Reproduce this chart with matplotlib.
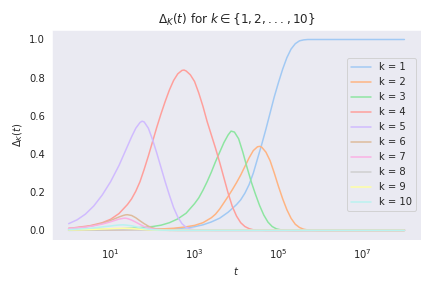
import numpy as np
import matplotlib
matplotlib.use("Agg")
import matplotlib.pyplot as plt
import seaborn as sns

# curves: log10(t) positions and Delta_k values
lt1 = [0, 1, 2, 2.5, 2.8, 3.0, 3.2, 3.4, 3.6, 3.8, 3.9, 4.0, 4.1, 4.2, 4.3, 4.4, 4.5,
       4.6, 4.7, 4.8, 4.9, 5.0, 5.1, 5.2, 5.3, 5.4, 5.5, 5.6, 5.7, 8]
d1 = [0.0, 0.002, 0.005, 0.008, 0.013, 0.019, 0.029, 0.044, 0.064, 0.095, 0.115, 0.135,
      0.16, 0.195, 0.24, 0.30, 0.375, 0.45, 0.53, 0.615, 0.70, 0.775, 0.845, 0.905, 0.95,
      0.978, 0.993, 0.998, 1.0, 1.0]

lt2 = [0, 1, 2, 2.5, 2.75, 3.0, 3.2, 3.4, 3.5, 3.6, 3.7, 3.8, 3.9, 4.0, 4.1, 4.2, 4.3,
       4.4, 4.5, 4.55, 4.6, 4.7, 4.8, 4.9, 5.0, 5.1, 5.2, 5.3, 5.4, 5.5, 5.6, 5.7, 5.8, 6.0, 8]
d2 = [0.002, 0.003, 0.005, 0.011, 0.017, 0.026, 0.04, 0.066, 0.085, 0.112, 0.145, 0.178,
      0.213, 0.25, 0.29, 0.335, 0.38, 0.418, 0.438, 0.44, 0.436, 0.41, 0.365, 0.30, 0.23,
      0.165, 0.108, 0.063, 0.032, 0.015, 0.006, 0.002, 0.0005, 0.0, 0.0]

lt3 = [0, 1, 1.5, 2.0, 2.2, 2.4, 2.6, 2.8, 3.0, 3.1, 3.2, 3.3, 3.4, 3.5, 3.6, 3.7, 3.8,
       3.87, 3.95, 4.05, 4.15, 4.25, 4.35, 4.45, 4.55, 4.65, 4.75, 4.85, 4.95, 5.05, 5.2, 5.4, 8]
d3 = [0.003, 0.006, 0.011, 0.02, 0.027, 0.04, 0.06, 0.09, 0.14, 0.17, 0.21, 0.255, 0.305,
      0.36, 0.41, 0.46, 0.50, 0.52, 0.515, 0.48, 0.41, 0.33, 0.255, 0.19, 0.13, 0.08, 0.043,
      0.02, 0.008, 0.003, 0.0005, 0.0, 0.0]

lt4 = [0, 0.5, 0.8, 1.0, 1.2, 1.4, 1.5, 1.6, 1.7, 1.8, 1.9, 2.0, 2.1, 2.2, 2.3, 2.4, 2.5,
       2.6, 2.7, 2.75, 2.8, 2.9, 3.0, 3.1, 3.2, 3.3, 3.4, 3.5, 3.6, 3.7, 3.8, 3.9, 4.0,
       4.1, 4.2, 4.3, 4.4, 4.5, 4.7, 8]
d4 = [0.010, 0.024, 0.04, 0.058, 0.088, 0.135, 0.165, 0.205, 0.255, 0.32, 0.39, 0.465,
      0.54, 0.61, 0.675, 0.735, 0.785, 0.82, 0.838, 0.84, 0.835, 0.815, 0.78, 0.72, 0.65,
      0.57, 0.50, 0.43, 0.355, 0.275, 0.195, 0.125, 0.075, 0.04, 0.02, 0.009, 0.003, 0.001,
      0.0, 0.0]

lt5 = [0, 0.2, 0.4, 0.6, 0.8, 1.0, 1.2, 1.3, 1.4, 1.5, 1.6, 1.7, 1.75, 1.8, 1.9, 2.0,
       2.1, 2.2, 2.3, 2.4, 2.5, 2.6, 2.7, 2.8, 2.9, 3.0, 3.2, 3.5, 8]
d5 = [0.035, 0.055, 0.085, 0.128, 0.185, 0.255, 0.34, 0.39, 0.44, 0.49, 0.535, 0.565,
      0.572, 0.568, 0.535, 0.475, 0.405, 0.33, 0.255, 0.185, 0.12, 0.07, 0.035, 0.016,
      0.007, 0.003, 0.001, 0.0, 0.0]

lt6 = [0, 0.2, 0.4, 0.6, 0.8, 1.0, 1.1, 1.2, 1.3, 1.35, 1.4, 1.5, 1.6, 1.7, 1.8, 1.9,
       2.0, 2.1, 2.2, 2.4, 2.6, 8]
d6 = [0.010, 0.013, 0.018, 0.026, 0.037, 0.052, 0.061, 0.07, 0.078, 0.081, 0.082, 0.078,
      0.066, 0.05, 0.035, 0.022, 0.013, 0.007, 0.004, 0.001, 0.0, 0.0]

lt7 = [0, 0.2, 0.4, 0.6, 0.8, 1.0, 1.1, 1.2, 1.3, 1.35, 1.4, 1.5, 1.6, 1.7, 1.8, 1.9,
       2.0, 2.2, 2.4, 8]
d7 = [0.010, 0.013, 0.017, 0.024, 0.033, 0.045, 0.052, 0.059, 0.063, 0.064, 0.062, 0.054,
      0.043, 0.031, 0.02, 0.012, 0.007, 0.002, 0.0, 0.0]

lt8 = [0, 0.4, 0.8, 1.1, 1.3, 1.5, 1.7, 1.9, 2.1, 2.4, 8]
d8 = [0.001, 0.002, 0.003, 0.004, 0.0045, 0.004, 0.003, 0.0015, 0.0005, 0.0, 0.0]

lt9 = [0, 0.3, 0.6, 0.9, 1.1, 1.3, 1.5, 1.7, 1.9, 2.1, 2.4, 8]
d9 = [0.002, 0.003, 0.005, 0.008, 0.010, 0.011, 0.0095, 0.006, 0.003, 0.001, 0.0, 0.0]

lt10 = [0, 0.2, 0.4, 0.6, 0.8, 1.0, 1.1, 1.2, 1.3, 1.4, 1.5, 1.6, 1.7, 1.8, 1.9, 2.0,
        2.2, 2.5, 8]
d10 = [0.004, 0.006, 0.009, 0.013, 0.018, 0.023, 0.026, 0.028, 0.029, 0.027, 0.024,
       0.019, 0.014, 0.009, 0.006, 0.0035, 0.001, 0.0, 0.0]

curves = [(lt1, d1), (lt2, d2), (lt3, d3), (lt4, d4), (lt5, d5),
          (lt6, d6), (lt7, d7), (lt8, d8), (lt9, d9), (lt10, d10)]

sns.set_style("dark")
colors = sns.color_palette("pastel", 10)

fig, ax = plt.subplots(figsize=(6, 4), dpi=72)
fig.subplots_adjust(left=0.12, right=0.975, top=0.896, bottom=0.167)

for k, (lt, d) in enumerate(curves, start=1):
    ax.plot(np.power(10.0, lt), d, color=colors[k - 1], label=f"k = {k}")

ax.set_xscale("log")
ax.set_xticks([1e1, 1e3, 1e5, 1e7])
ax.minorticks_off()
ax.set_title(r"$\Delta_K(t)$ for $k \in \{1, 2, ..., 10\}$")
ax.set_xlabel(r"$t$")
ax.set_ylabel(r"$\Delta_K(t)$")
ax.legend(loc="center right")

fig.savefig("out.png", dpi=72)
